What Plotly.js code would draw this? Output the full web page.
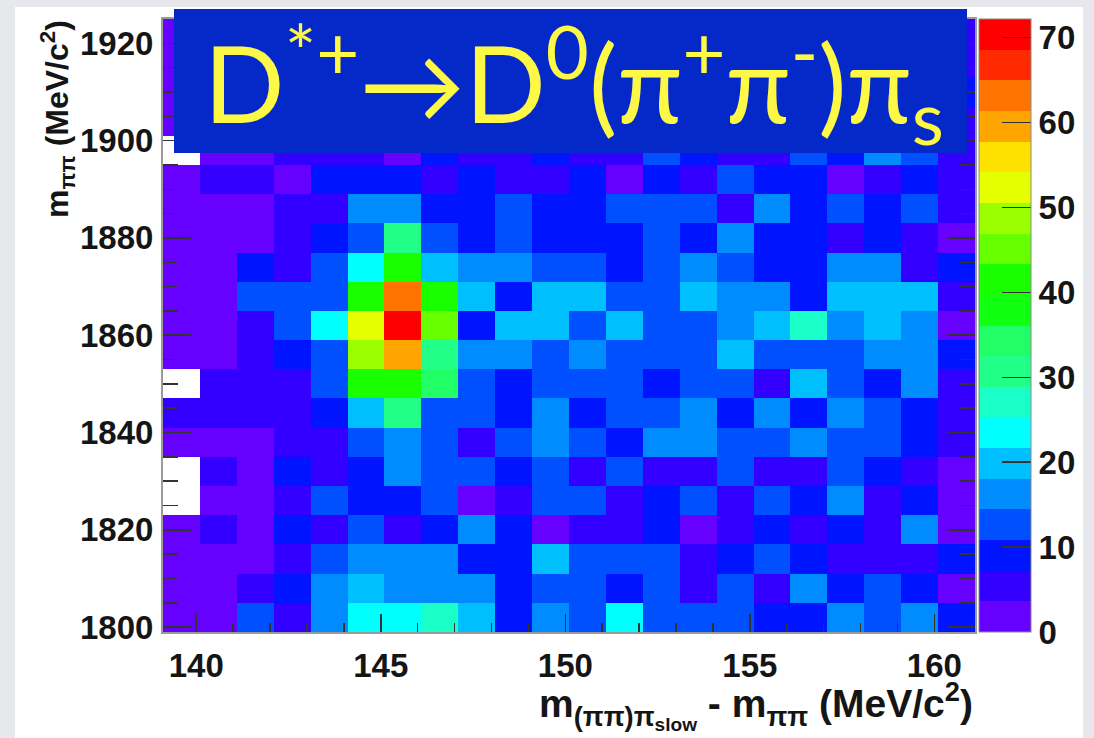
<!DOCTYPE html>
<html>
<head>
<meta charset="utf-8">
<script src="https://cdn.plot.ly/plotly-3.0.1.min.js"></script>
<style>
  html, body { margin: 0; padding: 0; background: #e7e8eb; }
  #chart { width: 1094px; height: 738px; }
</style>
</head>
<body>
<div id="chart"></div>
<script>
// ---- Data ----
// Bin edges: x = m((pipi)pi_slow) - m(pipi) in MeV/c^2 (22 bins of 1 MeV)
const xEdges = [139.1, 140.1, 141.1, 142.1, 143.1, 144.1, 145.1, 146.1, 147.1, 148.1, 149.1,
                150.1, 151.1, 152.1, 153.1, 154.1, 155.1, 156.1, 157.1, 158.1, 159.1, 160.1, 161.1];
// y = m(pipi) in MeV/c^2 (21 bins of 6 MeV)
const yEdges = [1799, 1805, 1811, 1817, 1823, 1829, 1835, 1841, 1847, 1853, 1859,
                1865, 1871, 1877, 1883, 1889, 1895, 1901, 1907, 1913, 1919, 1925];

// Bin contents, one array per y bin (bottom to top); null = empty bin
const row1802 = [2, 2, 13, 5, 16, 23, 23, 27, 20, 9, 16, 13, 23, 13, 13, 13, 9, 9, 16, 13, 16, 9];
const row1808 = [2, 2, 5, 9, 16, 20, 16, 16, 16, 9, 13, 13, 9, 13, 5, 13, 5, 16, 9, 13, 9, 2];
const row1814 = [2, 2, 2, 5, 13, 16, 16, 16, 9, 9, 20, 13, 13, 13, 5, 9, 13, 9, 5, 5, 5, 9];
const row1820 = [2, 5, 2, 9, 5, 13, 5, 9, 16, 9, 2, 5, 5, 9, 2, 5, 9, 5, 9, 5, 16, 2];
const row1826 = [null, 2, 2, 5, 13, 9, 9, 13, 2, 5, 13, 13, 5, 9, 13, 5, 13, 9, 16, 5, 9, 2];
const row1832 = [null, 5, 2, 9, 5, 9, 16, 13, 13, 9, 13, 5, 13, 5, 5, 13, 5, 5, 13, 9, 5, 2];
const row1838 = [2, 2, 2, 5, 5, 13, 16, 13, 5, 13, 16, 13, 9, 16, 16, 13, 13, 16, 13, 13, 9, 5];
const row1844 = [5, 5, 5, 5, 9, 20, 31, 13, 13, 9, 16, 9, 13, 13, 16, 9, 16, 9, 16, 13, 9, 5];
const row1850 = [null, 5, 5, 5, 13, 40, 40, 35, 13, 9, 13, 13, 13, 9, 13, 13, 5, 20, 13, 9, 16, 5];
const row1856 = [2, 2, 5, 9, 13, 48, 60, 31, 16, 16, 13, 16, 13, 13, 13, 20, 13, 13, 13, 16, 16, 9];
const row1862 = [2, 2, 5, 13, 23, 52, 70, 45, 9, 20, 20, 13, 20, 13, 13, 16, 20, 27, 16, 20, 16, 2];
const row1868 = [2, 2, 13, 13, 13, 41, 63, 41, 20, 9, 20, 20, 13, 13, 20, 16, 16, 9, 20, 20, 20, 5];
const row1874 = [2, 2, 9, 5, 13, 23, 40, 20, 16, 16, 13, 13, 9, 13, 16, 13, 9, 9, 16, 16, 5, 9];
const row1880 = [2, 2, 2, 5, 9, 13, 31, 13, 9, 13, 9, 9, 9, 13, 9, 16, 9, 9, 5, 9, 5, 2];
const row1886 = [2, 2, 2, 5, 5, 16, 16, 9, 9, 13, 9, 9, 13, 13, 13, 5, 16, 9, 13, 9, 13, 5];
const row1892 = [2, 5, 5, 2, 9, 9, 9, 5, 9, 5, 5, 9, 2, 9, 5, 13, 9, 9, 2, 5, 9, 5];
const row1898 = [null, 2, 2, 5, 5, 5, 2, 9, 5, 5, 9, 5, 5, 13, 9, 5, 5, 13, 9, 16, 13, 5];
const row1904 = [2, 2, 5, 5, 9, 5, 5, 9, 5, 9, 5, 5, 9, 5, 9, 5, 9, 5, 5, 9, 5, 5];
const row1910 = [2, 2, 2, 5, 5, 9, 9, 5, 5, 5, 9, 5, 5, 9, 5, 9, 5, 9, 5, 5, 9, 9];
const row1916 = [2, 5, 2, 5, 9, 5, 5, 9, 5, 9, 5, 9, 5, 5, 9, 5, 5, 9, 9, 5, 5, 5];
const row1922 = [2, 2, 5, 2, 5, 5, 9, 5, 9, 5, 5, 5, 9, 5, 5, 9, 5, 5, 5, 9, 5, 5];

const zRows = [row1802, row1808, row1814, row1820, row1826, row1832, row1838, row1844, row1850,
               row1856, row1862, row1868, row1874, row1880, row1886, row1892, row1898, row1904,
               row1910, row1916, row1922];

// Colour axis
const zMin = 0, zMax = 72.2;
const colorTicks = [0, 10, 20, 30, 40, 50, 60, 70];
const xTicks = [140, 145, 150, 155, 160];

// ROOT-like palette, 20 contour bands (bottom to top)
const bandColors = ['#6600ff', '#3300ff', '#0014ff', '#0050ff', '#008cff', '#00bfff', '#00ffff',
                    '#1affc8', '#22ff88', '#22ff66', '#11ff11', '#19ff00', '#66ff00', '#9bff00',
                    '#e6ff00', '#ffe100', '#ffa500', '#ff7300', '#ff2a00', '#ff0000'];

// ---- Build ----
const colorscale = [];
bandColors.forEach((c, i) => {
  colorscale.push([i / bandColors.length, c]);
  colorscale.push([(i + 1) / bandColors.length, c]);
});

const W = 1094, H = 738;
const ML = 163, MR = 119, MT = 19, MB = 106;
const PW = W - ML - MR, PH = H - MT - MB;
const px2x = p => (p - ML) / PW;
const px2y = p => 1 - (p - MT) / PH;

const tickFont = { family: 'Liberation Sans, Arial, sans-serif', size: 33, color: '#151515', weight: 'bold' };
const titleFont = { family: 'Liberation Sans, Arial, sans-serif', size: 39, color: '#151515', weight: 'bold' };

const trace = {
  type: 'heatmap',
  x: xEdges,
  y: yEdges,
  z: zRows,
  zmin: zMin,
  zmax: zMax,
  colorscale: colorscale,
  zsmooth: false,
  hoverongaps: false,
  colorbar: {
    x: px2x(979), xanchor: 'left', xpad: 0,
    y: 0.5, yanchor: 'middle', ypad: 0,
    len: 1, lenmode: 'fraction',
    thickness: 52, thicknessmode: 'pixels',
    outlinewidth: 1, outlinecolor: '#8a8a8a',
    tickmode: 'array', tickvals: colorTicks, ticktext: colorTicks.map(String),
    ticks: 'inside', ticklen: 29, tickwidth: 1.5, tickcolor: '#333',
    tickfont: tickFont
  }
};

const layout = {
  width: W, height: H,
  margin: { l: ML, r: MR, t: MT, b: MB, pad: 0, autoexpand: false },
  paper_bgcolor: '#e7e8eb',
  plot_bgcolor: '#ffffff',
  showlegend: false,
  title: {
    text: 'D<sup>*+</sup>\u2192D<sup>0</sup>(\u03c0<sup>+</sup>\u03c0<sup>-</sup>)\u03c0<sub>s</sub>',
    font: { family: 'Lato, "Open Sans", sans-serif', size: 106, color: '#fdf845' },
    xref: 'container', yref: 'container',
    x: 574 / W, xanchor: 'center',
    y: 1 - 86 / H, yanchor: 'middle'
  },
  xaxis: {
    range: [xEdges[0], xEdges[xEdges.length - 1]],
    tickmode: 'array', tickvals: xTicks, ticktext: xTicks.map(String),
    ticks: 'inside', ticklen: 18, tickwidth: 1.5, tickcolor: '#333',
    minor: { dtick: 1, tick0: 140, ticks: 'inside', ticklen: 9, tickwidth: 1.5, tickcolor: '#333' },
    showline: true, linecolor: '#9a9a9a', linewidth: 2, mirror: 'ticks',
    showgrid: false, zeroline: false,
    tickfont: tickFont, ticklabelstandoff: 3,
    fixedrange: true
  },
  yaxis: {
    range: [yEdges[0], yEdges[yEdges.length - 1]],
    tickmode: 'linear', tick0: 1800, dtick: 20,
    ticks: 'inside', ticklen: 28, tickwidth: 1.5, tickcolor: '#333',
    minor: { dtick: 5, tick0: 1800, ticks: 'inside', ticklen: 15, tickwidth: 1.5, tickcolor: '#333' },
    showline: true, linecolor: '#9a9a9a', linewidth: 2, mirror: 'ticks',
    showgrid: false, zeroline: false,
    tickfont: tickFont, ticklabelstandoff: 1,
    fixedrange: true
  },
  shapes: [
    { type: 'rect', xref: 'paper', yref: 'paper', layer: 'below',
      x0: px2x(15), x1: px2x(1083), y0: px2y(738), y1: px2y(7),
      fillcolor: '#ffffff', line: { width: 0 } },
    { type: 'rect', xref: 'paper', yref: 'paper', layer: 'above',
      x0: px2x(174), x1: px2x(967), y0: px2y(153), y1: px2y(9),
      fillcolor: '#0429c8', line: { width: 0 } }
  ],
  annotations: [
    { xref: 'paper', yref: 'paper', x: 1.0, y: px2y(674), xanchor: 'right', yanchor: 'top',
      showarrow: false,
      text: 'm<sub>(\u03c0\u03c0)\u03c0<sub>slow</sub></sub> - m<sub>\u03c0\u03c0</sub> (MeV/c<sup>2</sup>)',
      font: titleFont },
    { xref: 'paper', yref: 'paper', x: px2x(57), y: px2y(18), xanchor: 'center', yanchor: 'top',
      textangle: -90, showarrow: false,
      text: 'm<sub>\u03c0\u03c0</sub> (MeV/c<sup>2</sup>)',
      font: { family: 'Liberation Sans, Arial, sans-serif', size: 32, color: '#151515', weight: 'bold' } }
  ]
};

Plotly.newPlot('chart', [trace], layout, { staticPlot: true, displayModeBar: false });
</script>
</body>
</html>
